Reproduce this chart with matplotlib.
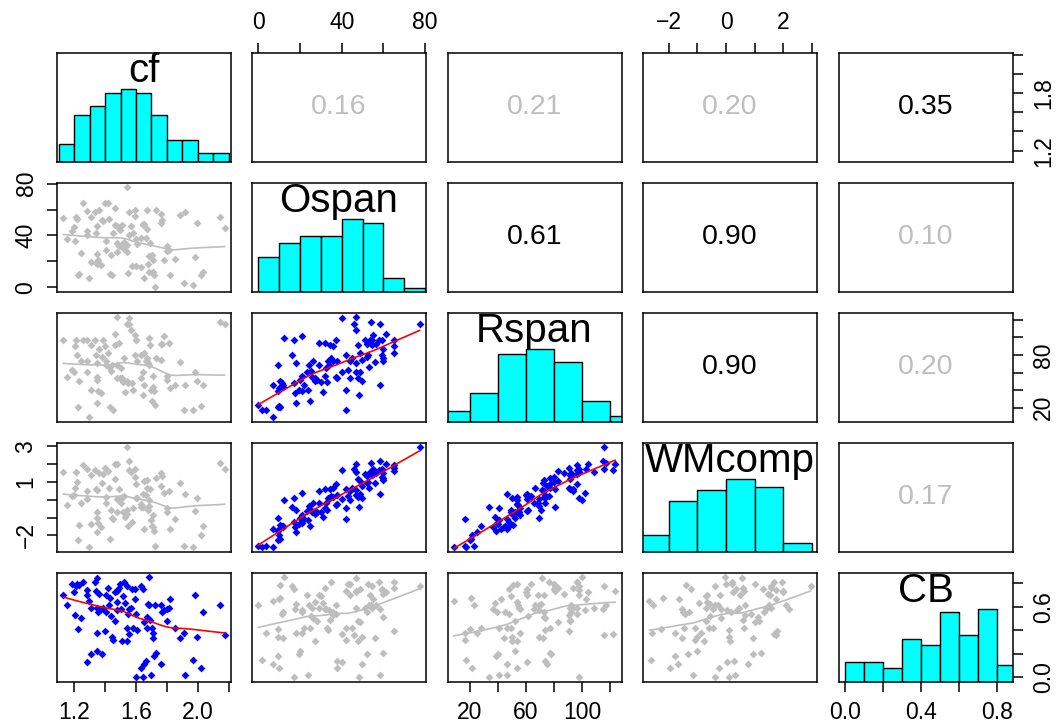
import numpy as np
import matplotlib
matplotlib.use("Agg")
import matplotlib.pyplot as plt

plt.rcParams['font.family'] = ['Liberation Sans', 'DejaVu Sans']

# data (one entry per subject)
cf = [1.129, 1.150, 1.185, 1.198, 1.211, 1.219, 1.228, 1.206, 1.241, 1.224,
      1.258, 1.284, 1.284, 1.293, 1.310, 1.280, 1.310, 1.345, 1.379, 1.336,
      1.349, 1.341, 1.358, 1.349, 1.354, 1.371, 1.349, 1.401, 1.405, 1.405,
      1.418, 1.431, 1.427, 1.436, 1.462, 1.462, 1.444, 1.448, 1.479, 1.475,
      1.492, 1.499, 1.522, 1.539, 1.518, 1.531, 1.509, 1.543, 1.539, 1.505,
      1.548, 1.556, 1.574, 1.594, 1.590, 1.582, 1.569, 1.598, 1.609, 1.601,
      1.647, 1.634, 1.647, 1.682, 1.651, 1.672, 1.677, 1.682, 1.634, 1.651,
      1.663, 1.699, 1.690, 1.672, 1.706, 1.708, 1.712, 1.717, 1.730, 1.724,
      1.764, 1.769, 1.760, 1.781, 1.803, 1.820, 1.799, 1.816, 1.851, 1.885,
      1.911, 1.916, 1.967, 1.980, 1.993, 2.019, 2.032, 2.144, 2.174, 1.475,
      1.388, 1.552]
ospan = [53.3, 37.1, 43.1, 46.6, 54.3, 52.4, 10.5, 35.8, 26.2, 9.3,
         64.8, 59.1, 43.8, 7.0, 54.3, 40.2, 19.5, 19.8, 52.1, 57.8,
         47.0, 42.2, 59.7, 25.6, 21.1, 17.3, 18.2, 65.2, 35.8, 29.1,
         65.2, 10.5, 53.0, 25.2, 61.0, 47.9, 9.3, 42.2, 27.1, 33.9,
         31.9, 44.1, 34.8, 77.3, 30.0, 31.0, 47.9, 27.1, 32.9, 32.2,
         11.2, 58.1, 16.9, 59.5, 55.2, 42.2, 47.0, 37.1, 33.2, 16.9,
         48.2, 16.0, 48.5, 12.1, 48.5, 59.6, 18.2, 24.3, 37.7, 7.0,
         37.7, 23.9, 34.2, 45.1, 24.9, 21.1, 11.8, 9.6, 59.7, 0.0,
         56.5, 52.1, 49.8, 21.1, 31.9, 9.9, 28.1, 29.1, 22.0, 55.9,
         3.8, 58.1, 1.9, 23.3, 49.8, 9.8, 11.8, 54.0, 46.0, 47.0,
         51.1, 40.1]
rspan = [97.7, 54.5, 63.3, 60.2, 97.4, 79.8, 50.7, 90.4, 73.7, 20.1,
         96.6, 97.4, 72.9, 8.6, 91.3, 60.5, 40.2, 51.8, 77.5, 96.6,
         71.0, 80.5, 86.7, 55.3, 39.2, 36.5, 25.0, 90.5, 72.9, 68.3,
         82.8, 20.5, 66.0, 61.4, 104.3, 91.3, 69.1, 16.6, 53.8, 69.1,
         93.6, 53.8, 76.0, 115.8, 49.2, 37.7, 53.8, 50.0, 49.2, 65.5,
         48.0, 115.0, 48.0, 79.8, 102.7, 40.4, 108.1, 96.6, 73.7, 97.7,
         33.9, 80.5, 61.0, 99.7, 82.5, 72.9, 70.6, 69.1, 53.8, 46.1,
         73.7, 40.4, 91.3, 76.7, 27.7, 55.7, 44.0, 38.4, 76.7, 22.8,
         92.1, 92.0, 74.8, 102.0, 55.7, 42.3, 51.8, 93.2, 46.1, 72.1,
         16.6, 46.1, 17.4, 60.3, 49.9, 21.6, 45.3, 117.3, 115.8, 123.4,
         96.6, 121.9]
wmcomp = [1.53, -0.27, 0.20, 0.26, 1.56, 1.01, -1.41, 0.65, -0.17, -2.28,
          1.95, 1.75, 0.49, -2.68, 1.40, 0.02, -1.34, -1.02, 0.94, 1.68,
          0.56, 0.63, 1.48, -0.70, -1.31, -1.53, -1.80, 1.80, 0.18, -0.21,
          1.59, -2.22, 0.66, -0.55, 1.98, 1.15, -1.02, -1.09, -0.68, 0.02,
          0.59, -0.01, 0.22, 2.96, -0.69, -0.96, 0.13, -0.78, -0.58, -0.16,
          -1.45, 2.19, -1.23, 1.29, 1.74, -0.45, 1.57, 0.87, 0.10, 0.11,
          -0.39, -0.39, 0.35, -0.02, 1.03, 1.11, -0.57, -0.37, -0.26, -1.67,
          0.27, -1.16, 0.61, 0.64, -1.47, -0.86, -1.54, -1.78, 1.21, -2.57,
          1.50, 1.33, 0.78, 0.39, -0.44, -1.66, -0.69, 0.47, -1.08, 0.94,
          -2.59, 0.32, -2.64, -0.65, 0.10, -1.97, -1.50, 2.09, 1.74, 1.98,
          1.42, 1.67]
cb = [0.70, 0.61, 0.79, 0.72, 0.77, 0.79, 0.78, 0.53, 0.505, 0.41,
      0.81, 0.74, 0.70, 0.65, 0.59, 0.13, 0.20, 0.22, 0.20, 0.81,
      0.84, 0.73, 0.71, 0.59, 0.55, 0.58, 0.38, 0.39, 0.55, 0.70,
      0.76, 0.67, 0.61, 0.52, 0.72, 0.48, 0.34, 0.32, 0.64, 0.57,
      0.76, 0.795, 0.81, 0.77, 0.69, 0.63, 0.305, 0.31, 0.42, 0.58,
      0.54, 0.58, 0.75, 0.75, 0.66, 0.42, 0.59, 0.54, 0.405, 0.0,
      0.0, 0.77, 0.75, 0.85, 0.47, 0.51, 0.62, 0.61, 0.08, 0.11,
      0.14, 0.02, 0.49, 0.42, 0.42, 0.38, 0.33, 0.18, 0.21, 0.61,
      0.61, 0.55, 0.11, 0.57, 0.58, 0.66, 0.48, 0.59, 0.42, 0.33,
      0.38, 0.02, 0.15, 0.70, 0.34, 0.08, 0.55, 0.61, 0.36, 0.73,
      0.59, 0.37]

names = ['cf', 'Ospan', 'Rspan', 'WMcomp', 'CB']
values = [cf, ospan, rspan, wmcomp, cb]

# histogram breaks per variable
breaks = [
    [1.1, 1.2, 1.3, 1.4, 1.5, 1.6, 1.7, 1.8, 1.9, 2.0, 2.1, 2.2],
    [0, 10, 20, 30, 40, 50, 60, 70, 80],
    [0, 20, 40, 60, 80, 100, 120, 140],
    [-3, -2, -1, 0, 1, 2, 3],
    [0, 0.1, 0.2, 0.3, 0.4, 0.5, 0.6, 0.7, 0.8, 0.9],
]

# correlations printed in the upper panels (row, col, text, significant)
corr_labels = [
    (0, 1, '0.16', False), (0, 2, '0.21', False), (0, 3, '0.20', False),
    (0, 4, '0.35', True), (1, 2, '0.61', True), (1, 3, '0.90', True),
    (1, 4, '0.10', False), (2, 3, '0.90', True), (2, 4, '0.20', False),
    (3, 4, '0.17', False),
]

# axis ticks and which ones get a label
ticks = [
    [1.2, 1.4, 1.6, 1.8, 2.0, 2.2],
    [0, 20, 40, 60, 80],
    [20, 40, 60, 80, 100, 120],
    [-2, -1, 0, 1, 2, 3],
    [0.0, 0.2, 0.4, 0.6, 0.8],
]
xlabels = [
    ['1.2', '', '1.6', '', '2.0', ''],
    ['0', '', '40', '', '80'],
    ['20', '', '60', '', '100', ''],
    ['\u22122', '', '0', '', '2', ''],
    ['0.0', '', '0.4', '', '0.8'],
]
ylabels = [
    ['1.2', '', '', '1.8', '', ''],
    ['0', '', '40', '', '80'],
    ['20', '', '', '80', '', ''],
    ['\u22122', '', '', '1', '', '3'],
    ['0.0', '', '', '0.6', ''],
]

GRAY = '#BEBEBE'
BLUE = '#0000FF'
RED = '#FF0000'
CYAN = '#00FFFF'


def lowess(x, y, f=2/3, it=3):
    order = np.argsort(x)
    x = np.asarray(x, float)[order]
    y = np.asarray(y, float)[order]
    n = len(x)
    r = int(np.ceil(f * n))
    rob = np.ones(n)
    fit = np.zeros(n)
    for _ in range(it + 1):
        for i in range(n):
            d = np.abs(x - x[i])
            h = max(np.sort(d)[r - 1], 1e-12)
            w = np.clip(d / h, 0, 1)
            w = (1 - w ** 3) ** 3 * rob
            sw = w.sum()
            xm = (w * x).sum() / sw
            ym = (w * y).sum() / sw
            sxx = (w * (x - xm) ** 2).sum()
            b = (w * (x - xm) * (y - ym)).sum() / sxx if sxx > 0 else 0.0
            fit[i] = ym + b * (x[i] - xm)
        res = y - fit
        s = np.median(np.abs(res))
        u = np.clip(res / (6 * s), -1, 1)
        rob = (1 - u ** 2) ** 2
    return x, fit


def lims(v):
    lo, hi = min(v), max(v)
    pad = 0.04 * (hi - lo)
    return lo - pad, hi + pad


sig = {}
for r, c, txt, s in corr_labels:
    sig[(r, c)] = s
    sig[(c, r)] = s

fig = plt.figure(figsize=(10.58, 7.25), dpi=100)
W, H = 1058.0, 725.0
col_left = [57, 252, 447.5, 643, 838.5]
row_top = [53, 183, 313, 443, 573]
pw, ph = 174, 108.5

tick_kw = dict(direction='out', length=7, width=1.1, labelsize=16.5, pad=7)


def set_xaxis(ax, k, where):
    ax.set_xticks(ticks[k])
    ax.set_xticklabels(xlabels[k])
    if where == 'top':
        ax.xaxis.tick_top()
    ax.tick_params(axis='x', **tick_kw)


def set_yaxis(ax, k, where):
    ax.set_yticks(ticks[k])
    ax.set_yticklabels(ylabels[k])
    if where == 'right':
        ax.yaxis.tick_right()
    ax.tick_params(axis='y', labelrotation=90, **tick_kw)
    for lab in ax.get_yticklabels():
        lab.set_va('center')


for i in range(5):
    for j in range(5):
        rect = [col_left[j] / W, (H - row_top[i] - ph) / H, pw / W, ph / H]
        ax = fig.add_axes(rect)
        for sp in ax.spines.values():
            sp.set_linewidth(1.1)
        ax.set_xticks([])
        ax.set_yticks([])
        xv = np.array(values[j])
        yv = np.array(values[i])
        ax.set_xlim(*lims(values[j]))

        if i == j:
            cnt, edges = np.histogram(xv, bins=breaks[i])
            ax.bar(edges[:-1], cnt / cnt.max(), width=np.diff(edges),
                   align='edge', color=CYAN, edgecolor='black', linewidth=1.0)
            ax.set_ylim(0, 1.5)
            ax.text(0.5, 0.735, names[i], transform=ax.transAxes,
                    ha='center', va='baseline', fontsize=29)
        elif i > j:
            ax.set_ylim(*lims(values[i]))
            s = sig[(i, j)]
            ax.scatter(xv, yv, marker='D', s=16, color=BLUE if s else GRAY,
                       linewidths=0, zorder=2)
            lx, ly = lowess(xv, yv)
            ax.plot(lx, ly, color=RED if s else GRAY, linewidth=1.2, zorder=3)
        else:
            ax.set_ylim(*lims(values[i]))
            for r, c, txt, s in corr_labels:
                if r == i and c == j:
                    ax.text(0.5, 0.5, txt, transform=ax.transAxes, ha='center',
                            va='center', fontsize=20.5,
                            color='black' if s else GRAY)

        # outer axes in the R pairs() alternating pattern
        if i == 0 and j % 2 == 1:
            set_xaxis(ax, j, 'top')
        if i == 4 and j % 2 == 0:
            set_xaxis(ax, j, 'bottom')
        if j == 0 and i % 2 == 1:
            set_yaxis(ax, i, 'left')
        if j == 4 and i % 2 == 0:
            if i == j:
                tw = ax.twinx()
                tw.set_ylim(*lims(values[i]))
                for sp in tw.spines.values():
                    sp.set_visible(False)
                set_yaxis(tw, i, 'right')
            else:
                set_yaxis(ax, i, 'right')

fig.savefig('out.png', dpi=100)
